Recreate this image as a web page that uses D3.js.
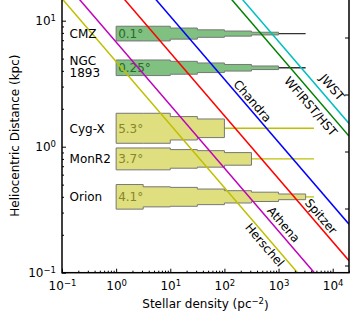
<!DOCTYPE html>
<html>
<head>
<meta charset="utf-8">
<script src="https://cdn.jsdelivr.net/npm/d3@7"></script>
<style>
  body { margin: 0; background: #fff; }
  svg { display: block; font-family: "DejaVu Sans", sans-serif; }
</style>
</head>
<body>
<div id="vis"></div>
<script>
const margin = { top: -1.5, left: 62 };
const width = 287;
const height = 274.2;

// axis ticks
const xTicks = [0.1, 1, 10, 100, 1000, 10000];
const yTicks = [0.1, 1, 10];
const rightTicks = [0, 1, 2, 3, 4];

// survey detection limits: stellar density reachable at 1 kpc (pc^-2)
const surveyNames = ['Herschel', 'Athena', 'Spitzer', 'Chandra', 'WFIRST/HST', 'JWST'];
const surveyColors = ['#bfbf00', '#bf00bf', '#ff0000', '#0000ff', '#008000', '#00bfbf'];
const surveyLimit1kpc = [22.4, 45.7, 310, 1175, 29500, 46800];
const surveyLabelAt = [690, 950, 4760, 262, 5370, 6890];
const surveyLabelOffset = [11, -4, -3.5, -3, 14, -6.5];

// star forming regions
const regionNames = [['CMZ'], ['NGC', '1893'], ['Cyg-X'], ['MonR2'], ['Orion']];
const regionDist = [7.9, 4.23, 1.4, 0.8, 0.4];
const regionAngle = ['0.1°', '0.25°', '5.3°', '3.7°', '4.1°'];
const regionGroup = ['far', 'far', 'near', 'near', 'near'];
const binEdges = [1, 3.16, 10, 31.6, 100, 316, 1000, 3162];
const regionWidths = [
  [0.49, 0.49, 0.37, 0.25, 0.17, 0.09],
  [0.52, 0.52, 0.43, 0.32, 0.22, 0.12],
  [1.0, 1.0, 0.78, 0.62],
  [0.73, 0.73, 0.62, 0.55, 0.42],
  [0.82, 0.67, 0.63, 0.52, 0.41, 0.31, 0.19]
];
const regionLineEnd = [3162, 3162, 4500, 4500, 4500];

const groupFill = { far: '#80c080', near: '#dfdf80' };
const groupText = { far: '#2a6a2a', near: '#86862a' };
const groupLine = { far: '#333333', near: '#bfbf00' };

const $svg = d3.select('#vis').append('svg')
  .attr('width', 359)
  .attr('height', 323);

const $plot = $svg.append('g')
  .attr('transform', `translate(${margin.left}, ${margin.top})`);

const x = d3.scaleLog().domain([0.1, 2e4]).range([0, width]);
const y = d3.scaleLog().domain([0.1, 15]).range([height, 0]);
const w = d3.scaleLinear().domain([0, 1]).range([0, 15]);
const y2 = d3.scaleLinear().domain([0, 4]).range([37.5, 265.5]);

$plot.append('clipPath').attr('id', 'clip')
  .append('rect').attr('width', width).attr('height', height);

const $inner = $plot.append('g').attr('clip-path', 'url(#clip)');

// ---- region histograms
regionDist.forEach((d, i) => {
  const yc = y(d);
  const widths = regionWidths[i];
  const edges = binEdges.slice(0, widths.length + 1);
  const pts = edges.map((e, j) => ({ e, h: w(widths[Math.min(j, widths.length - 1)]) }));
  const g = regionGroup[i];

  $inner.append('line')
    .attr('x1', x(edges[edges.length - 1]))
    .attr('x2', x(regionLineEnd[i]))
    .attr('y1', yc).attr('y2', yc)
    .attr('stroke', groupLine[g])
    .attr('stroke-width', 1.4);

  const area = d3.area()
    .x(p => x(p.e))
    .y0(p => yc + p.h)
    .y1(p => yc - p.h)
    .curve(d3.curveStepAfter);

  $inner.append('path')
    .attr('d', area(pts))
    .attr('fill', groupFill[g])
    .attr('stroke', '#777')
    .attr('stroke-width', 1);

  $inner.append('text')
    .attr('x', x(1) + 2)
    .attr('y', yc)
    .attr('dy', '0.36em')
    .attr('font-size', 12)
    .attr('fill', groupText[g])
    .text(regionAngle[i]);
});

// ---- survey limit lines: density ~ limit / d^2
const angle = Math.atan2(
  y(Math.sqrt(surveyLimit1kpc[0] / 1000)) - y(Math.sqrt(surveyLimit1kpc[0] / 1)),
  x(1000) - x(1)
) * 180 / Math.PI;

surveyNames.forEach((name, i) => {
  const lim = surveyLimit1kpc[i];
  const [r0, r1] = x.domain();
  $inner.append('line')
    .attr('x1', x(r0)).attr('y1', y(Math.sqrt(lim / r0)))
    .attr('x2', x(r1)).attr('y2', y(Math.sqrt(lim / r1)))
    .attr('stroke', surveyColors[i])
    .attr('stroke-width', 1.5);

  const at = surveyLabelAt[i];
  $plot.append('text')
    .attr('transform', `translate(${x(at)}, ${y(Math.sqrt(lim / at))}) rotate(${angle})`)
    .attr('text-anchor', 'middle')
    .attr('y', surveyLabelOffset[i])
    .attr('font-size', 12)
    .attr('fill', '#000')
    .text(name);
});

// ---- region names
regionNames.forEach((lines, i) => {
  const t = $plot.append('text')
    .attr('x', x(0.138))
    .attr('y', y(regionDist[i]))
    .attr('font-size', 12)
    .attr('fill', '#000');
  if (lines.length === 1) {
    t.attr('dy', '0.36em').text(lines[0]);
  } else {
    t.append('tspan').attr('x', x(0.138)).attr('dy', -3).text(lines[0]);
    t.append('tspan').attr('x', x(0.138)).attr('dy', 12).text(lines[1]);
  }
});

// ---- axes
function minors(domain) {
  const out = [];
  for (let e = Math.floor(Math.log10(domain[0])); e <= Math.ceil(Math.log10(domain[1])); e++) {
    for (let k = 2; k <= 9; k++) {
      const v = k * Math.pow(10, e);
      if (v >= domain[0] && v <= domain[1]) out.push(v);
    }
  }
  return out;
}

function powLabels(sel) {
  sel.selectAll('.tick text').each(function(d) {
    const t = d3.select(this).text('');
    const e = Math.round(Math.log10(d));
    t.append('tspan').text('10');
    t.append('tspan').attr('dy', '-0.45em').attr('font-size', '8.5px')
      .text(e < 0 ? '\u2212' + (-e) : e);
  });
}

const $xAxis = $plot.append('g')
  .attr('transform', `translate(0, ${height})`)
  .call(d3.axisBottom(x).tickValues(xTicks).tickSize(-4).tickPadding(9))
  .call(powLabels);

$plot.append('g')
  .attr('transform', `translate(0, ${height})`)
  .call(d3.axisBottom(x).tickValues(minors(x.domain())).tickSize(-2).tickFormat(''));

const $yAxis = $plot.append('g')
  .call(d3.axisLeft(y).tickValues(yTicks).tickSize(-4).tickPadding(6))
  .call(powLabels);

$plot.append('g')
  .call(d3.axisLeft(y).tickValues(minors(y.domain())).tickSize(-2).tickFormat(''));

$svg.append('g')
  .attr('transform', `translate(${margin.left + width}, 0)`)
  .call(d3.axisRight(y2).tickValues(rightTicks).tickSize(-4).tickFormat(''))
  .select('.domain').remove();

$svg.selectAll('.domain').remove();
$svg.selectAll('.tick line').attr('stroke', '#000').attr('stroke-width', 1);
$svg.selectAll('.tick text').attr('font-size', 12).attr('font-family', '"DejaVu Sans", sans-serif').attr('fill', '#000');

$plot.append('rect')
  .attr('width', width)
  .attr('height', height)
  .attr('fill', 'none')
  .attr('stroke', '#000')
  .attr('stroke-width', 1.5);

// axis titles
$svg.append('text')
  .attr('x', margin.left + width / 2)
  .attr('y', 308)
  .attr('text-anchor', 'middle')
  .attr('font-size', 12)
  .call(t => {
    t.append('tspan').text('Stellar density (pc');
    t.append('tspan').attr('dy', '-0.45em').attr('font-size', '8.5px').text('\u22122');
    t.append('tspan').attr('dy', '0.45em').text(')');
  });

$svg.append('text')
  .attr('transform', `translate(19, ${margin.top + height / 2}) rotate(-90)`)
  .attr('text-anchor', 'middle')
  .attr('font-size', 12)
  .text('Heliocentric Distance (kpc)');
</script>
</body>
</html>
